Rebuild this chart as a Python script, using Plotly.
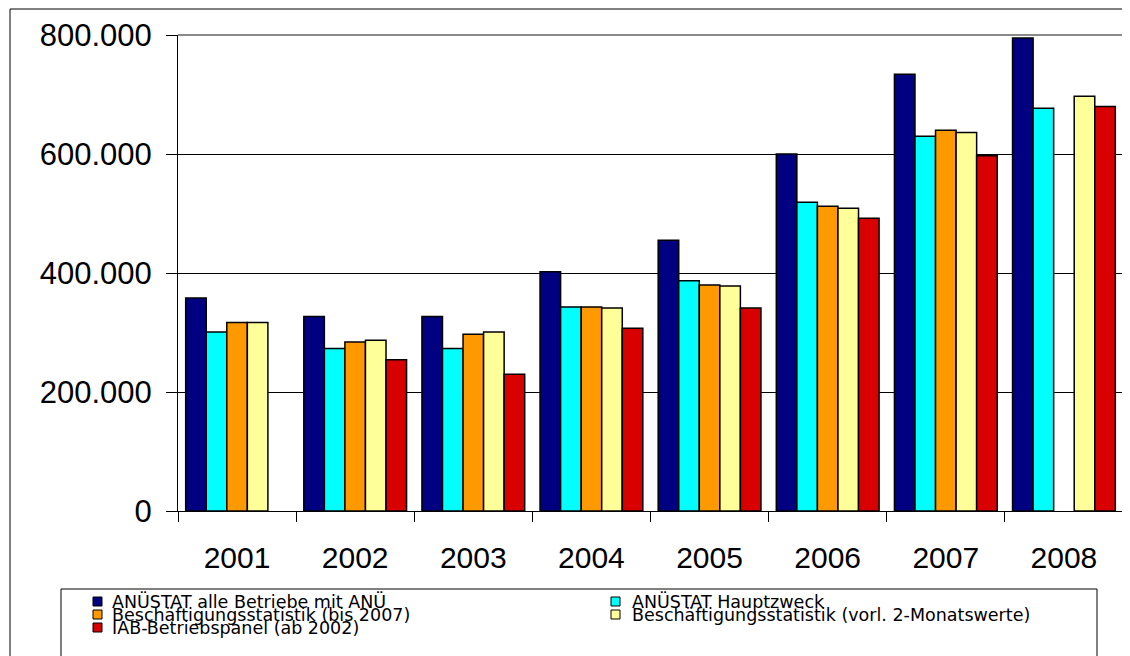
import plotly.graph_objects as go

years = ["2001", "2002", "2003", "2004", "2005", "2006", "2007", "2008"]
series_names = [
    "ANÜSTAT alle Betriebe mit ANÜ",
    "ANÜSTAT Hauptzweck",
    "Beschäftigungsstatistik (bis 2007)",
    "Beschäftigungsstatistik (vorl. 2-Monatswerte)",
    "IAB-Betriebspanel (ab 2002)",
]
anuestat_alle = [358000, 327000, 327000, 402000, 455000, 600000, 734000, 795000]
anuestat_haupt = [301000, 273000, 273000, 343000, 387000, 519000, 630000, 677000]
besch_bis2007 = [317000, 284000, 297000, 343000, 380000, 512000, 640000, None]
besch_vorl = [317000, 287000, 301000, 341000, 378000, 509000, 636000, 697000]
iab_panel = [None, 254000, 230000, 307000, 341000, 492000, 597000, 680000]
series_values = [anuestat_alle, anuestat_haupt, besch_bis2007, besch_vorl, iab_panel]
colors = ["#000080", "#00FFFF", "#FF9900", "#FFFF99", "#D90000"]
y_ticks = [0, 200000, 400000, 600000, 800000]

# The page body has an 8px margin, so the figure is drawn 8px in from the corner.
OFF = 8
WIDTH, HEIGHT = 1130 - OFF, 656 - OFF
# plot-area geometry in reference (screen) pixels
L, R, T, B = 178, 1123, 35, 511
PW, PH = R - L, B - T


def px(x):
    return (x - L) / PW


def py(y):
    return (B - y) / PH


FONT = "Liberation Sans, Arial, sans-serif"
LEG_FONT = "DejaVu Sans, Liberation Sans, sans-serif"

fig = go.Figure()
for name, vals, col in zip(series_names, series_values, colors):
    fig.add_trace(go.Bar(
        x=years, y=vals, name=name,
        marker=dict(color=col, line=dict(color="black", width=1.5)),
        showlegend=False,
    ))

shapes = []
# outer chart frame
shapes.append(dict(type="rect", xref="paper", yref="paper",
                   x0=px(10), x1=px(1145), y0=py(9), y1=py(680),
                   line=dict(color="black", width=1), layer="below"))
# plot-area border (top & right, grey)
shapes.append(dict(type="line", xref="paper", yref="paper", x0=0, x1=1, y0=1, y1=1,
                   line=dict(color="#8a8a8a", width=2), layer="above"))
shapes.append(dict(type="line", xref="paper", yref="paper", x0=1, x1=1, y0=0, y1=1,
                   line=dict(color="#8a8a8a", width=2), layer="above"))
# legend box
shapes.append(dict(type="rect", xref="paper", yref="paper",
                   x0=px(61), x1=px(1097), y0=py(589), y1=py(680),
                   line=dict(color="black", width=1), fillcolor="white", layer="below"))

annotations = []
col_marker_x = [93, 611]
col_text_x = [111, 631]
row_y = [601.5, 614.5, 627.5]
for i, (name, col) in enumerate(zip(series_names, colors)):
    r, c = divmod(i, 2)
    yc = row_y[r]
    mx = col_marker_x[c]
    shapes.append(dict(type="rect", xref="paper", yref="paper",
                       x0=px(mx), x1=px(mx + 9), y0=py(yc - 4.5), y1=py(yc + 4.5),
                       fillcolor=col, line=dict(color="black", width=1), layer="above"))
    annotations.append(dict(xref="paper", yref="paper", x=px(col_text_x[c]), y=py(yc),
                            xanchor="left", yanchor="middle", showarrow=False,
                            borderpad=0,
                            text=name, font=dict(family=LEG_FONT, size=17.5, color="black")))

fig.update_layout(
    width=WIDTH, height=HEIGHT,
    margin=dict(l=L - OFF, r=WIDTH - (R - OFF), t=T - OFF, b=HEIGHT - (B - OFF), pad=0),
    paper_bgcolor="white", plot_bgcolor="white",
    barmode="group", bargap=0.13, bargroupgap=0,
    separators=",.",
    font=dict(family=FONT, color="black"),
    shapes=shapes, annotations=annotations,
    xaxis=dict(
        type="category", tickson="boundaries", ticks="outside", ticklen=10,
        tickcolor="black", tickwidth=1, showline=True, linecolor="black", linewidth=1,
        showgrid=False, tickfont=dict(family=FONT, size=30), ticklabelstandoff=20,
    ),
    yaxis=dict(
        range=[0, 800000], tickvals=y_ticks, tickformat=",d",
        ticks="outside", ticklen=11, tickcolor="black", tickwidth=1,
        showline=True, linecolor="black", linewidth=1,
        showgrid=True, gridcolor="black", gridwidth=1, zeroline=False,
        tickfont=dict(family=FONT, size=31), ticklabelstandoff=8,
    ),
)

fig.write_html("out.html")
